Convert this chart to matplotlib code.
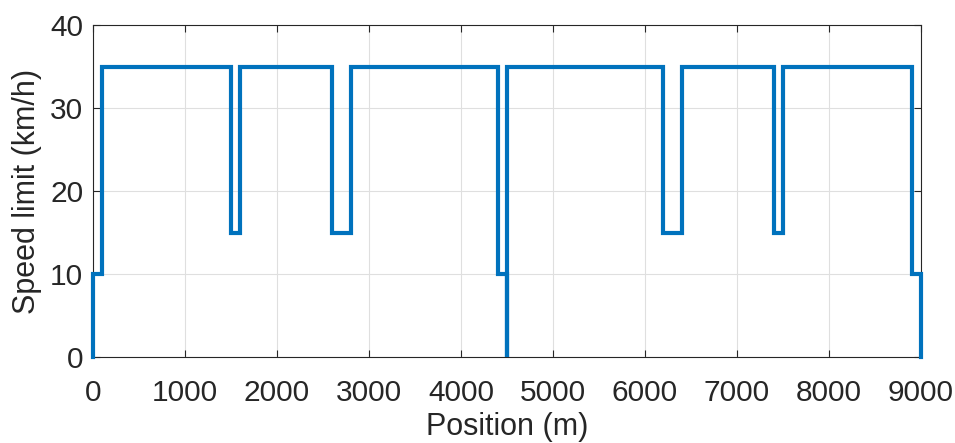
import matplotlib
matplotlib.use("Agg")
import matplotlib.pyplot as plt
import numpy as np

# Section 1 (0-4500 m): segment starts, section end, speed limits
sec1_starts = [0, 100, 1500, 1600, 2600, 2800, 4400]
sec1_end = 4500
sec1_speeds = [10, 35, 15, 35, 15, 35, 10]

# Section 2 (4500-9000 m)
sec2_starts = [4500, 6200, 6400, 7400, 7500, 8900]
sec2_end = 9000
sec2_speeds = [35, 15, 35, 15, 35, 10]

xticks = [0, 1000, 2000, 3000, 4000, 5000, 6000, 7000, 8000, 9000]
yticks = [0, 10, 20, 30, 40]


def section_path(starts, end, speeds):
    edges = list(starts) + [end]
    xs, ys = [edges[0]], [0]
    for i, v in enumerate(speeds):
        xs += [edges[i], edges[i + 1]]
        ys += [v, v]
    xs.append(edges[-1])
    ys.append(0)
    return xs, ys


x1, y1 = section_path(sec1_starts, sec1_end, sec1_speeds)
x2, y2 = section_path(sec2_starts, sec2_end, sec2_speeds)
x = x1 + x2
y = y1 + y2

plt.rcParams['font.family'] = ['Liberation Sans', 'DejaVu Sans']

fig = plt.figure(figsize=(9.55, 4.43), dpi=100)
ax = fig.add_axes([93 / 955, 1 - 357 / 443, (921 - 93) / 955, (357 - 25) / 443])

ax.plot(x, y, color='#0072BD', linewidth=3.0, solid_joinstyle='miter', clip_on=False, zorder=3)

ax.set_xlim(0, 9000)
ax.set_ylim(0, 40)
ax.set_xticks(xticks)
ax.set_yticks(yticks)
ax.grid(True, color='#dfdfdf', linewidth=0.8)
ax.set_axisbelow(True)
ax.tick_params(direction='in', labelsize=21.5, colors='#262626', length=5, width=0.8,
               top=True, right=True)
ax.tick_params(axis='x', pad=16)
ax.tick_params(axis='y', pad=7)
for s in ax.spines.values():
    s.set_color('#262626')
    s.set_linewidth(0.8)
ax.set_xlabel('Position (m)', fontsize=22, color='#262626', labelpad=3.5)
ax.set_ylabel('Speed limit (km/h)', fontsize=22, color='#262626', labelpad=6)

fig.savefig('out.png', dpi=100)
